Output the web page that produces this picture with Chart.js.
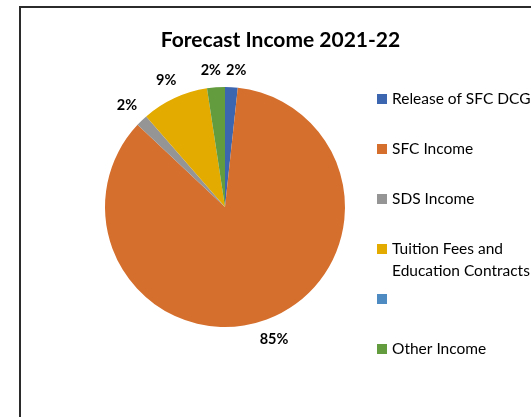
<!DOCTYPE html>
<html>
<head>
<meta charset="utf-8">
<script src="https://cdn.jsdelivr.net/npm/chart.js@4.4.0/dist/chart.umd.min.js"></script>
<style>
	html, body { margin: 0; padding: 0; overflow: hidden; background: #fff; width: 531px; height: 417px; }
	#frame { position: absolute; left: 19px; top: 6px; width: 560px; height: 460px; border: 2px solid #2b2b2b; }
	#incomeChart { position: absolute; left: 0; top: 0; }
</style>
</head>
<body>
<div id="frame"></div>
<canvas id="incomeChart" width="561" height="417"></canvas>
<script>
let chartTitle = 'Forecast Income 2021-22';
let categories = ['Release of SFC DCG', 'SFC Income', 'SDS Income', 'Tuition Fees and Education Contracts', '', 'Other Income'];
let legendLines = [['Release of SFC DCG'], ['SFC Income'], ['SDS Income'], ['Tuition Fees and', 'Education Contracts'], [''], ['Other Income']];
let shares = [1.7, 85.3, 1.6, 9.0, 0, 2.4];
let sliceColors = ['#3d66b0', '#d56f2d', '#959595', '#e3ab00', '#4f8bc3', '#639b3f'];

let fontFamily = 'Lato, "Open Sans", sans-serif';

// title centred over the whole chart box, not just the pie
let chartHeading = {
	id: 'chartHeading',
	afterDraw(chart) {
		let ctx = chart.ctx;
		ctx.save();
		ctx.font = 'bold 21px ' + fontFamily;
		ctx.fillStyle = '#000';
		ctx.textAlign = 'center';
		ctx.textBaseline = 'alphabetic';
		ctx.fillText(chartTitle, 280.5, 47);
		ctx.restore();
	}
};

// percentage labels just outside each slice, nudged apart when they collide
let outsideLabels = {
	id: 'outsideLabels',
	afterDatasetsDraw(chart) {
		let ctx = chart.ctx;
		let values = chart.data.datasets[0].data;
		let total = values.reduce((a, b) => a + b, 0);
		let meta = chart.getDatasetMeta(0);
		let h = 15;
		ctx.save();
		ctx.font = 'bold 14.5px ' + fontFamily;
		ctx.fillStyle = '#000';
		ctx.textAlign = 'center';
		ctx.textBaseline = 'middle';
		let boxes = [];
		meta.data.forEach((arc, i) => {
			if (!values[i]) return;
			let p = arc.getProps(['x', 'y', 'startAngle', 'endAngle', 'outerRadius'], true);
			let mid = (p.startAngle + p.endAngle) / 2;
			let text = Math.round(values[i] / total * 100) + '%';
			let w = ctx.measureText(text).width;
			let c = Math.cos(mid), s = Math.sin(mid);
			let r = p.outerRadius + 9 + Math.abs(c) * w / 2 + Math.abs(s) * h / 2;
			boxes.push({ text: text, w: w, x: p.x + c * r, y: p.y + s * r });
		});
		for (let a = 0; a < boxes.length; a++) {
			for (let b = a + 1; b < boxes.length; b++) {
				let A = boxes[a], B = boxes[b];
				if (Math.abs(A.y - B.y) >= h) continue;
				let gap = Math.abs(A.x - B.x) - (A.w + B.w) / 2;
				if (gap < 5) {
					let push = (5 - gap) / 2;
					let dir = A.x < B.x ? -1 : 1;
					A.x += dir * push;
					B.x -= dir * push;
				}
			}
		}
		boxes.forEach(bx => ctx.fillText(bx.text, bx.x, bx.y));
		ctx.restore();
	}
};

// legend on the right, one row every 50px
let sideLegend = {
	id: 'sideLegend',
	afterDraw(chart) {
		let ctx = chart.ctx;
		let colors = chart.data.datasets[0].backgroundColor;
		ctx.save();
		ctx.font = '15.5px ' + fontFamily;
		ctx.textBaseline = 'middle';
		legendLines.forEach((lines, i) => {
			let y = 99 + i * 50;
			ctx.fillStyle = colors[i];
			ctx.fillRect(377, y - 5, 10, 10);
			ctx.fillStyle = '#000';
			lines.forEach((line, j) => {
				ctx.fillText(line, 392, y + j * 22);
			});
		});
		ctx.restore();
	}
};

new Chart('incomeChart', {
	type: 'pie',
	data: {
		labels: categories,
		datasets: [{
			data: shares,
			backgroundColor: sliceColors,
			borderWidth: 0
		}]
	},
	options: {
		responsive: false,
		animation: false,
		layout: {
			padding: { left: 105, right: 216, top: 87, bottom: 90 }
		},
		plugins: {
			legend: { display: false },
			tooltip: { enabled: false },
			title: { display: false }
		}
	},
	plugins: [outsideLabels, sideLegend, chartHeading]
});
</script>
</body>
</html>
